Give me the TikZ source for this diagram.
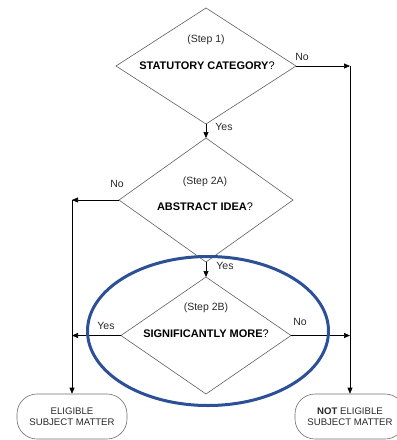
\documentclass[tikz,border=0pt]{standalone}
\usepackage{fontspec}
\setmainfont{Liberation Sans}
\usetikzlibrary{arrows.meta,shapes.geometric}
\definecolor{diagray}{RGB}{95,95,95}
\definecolor{termgray}{RGB}{110,110,110}
\definecolor{hlblue}{RGB}{44,80,150}
\definecolor{txtgray}{RGB}{40,40,40}
\begin{document}
\begin{tikzpicture}[x=1pt,y=-1pt,
  diabox/.style={draw=diagray, line width=0.6pt, diamond, inner sep=0pt, outer sep=0pt},
  stepl/.style={font=\fontsize{10.5}{12}\selectfont, text=txtgray, inner sep=0pt},
  quest/.style={font=\fontsize{11}{13}\selectfont, text=black, inner sep=0pt},
  lbl/.style={font=\fontsize{10.5}{12}\selectfont, text=txtgray, inner sep=0pt},
  termbox/.style={draw=termgray, line width=0.6pt, rounded corners=20pt, minimum width=110pt, minimum height=45pt, align=center, inner sep=0pt, font=\fontsize{9.6}{11.5}\selectfont, text=txtgray},
  arr/.style={draw=black, line width=0.6pt, -{Triangle[length=6pt,width=5pt]}},
  hl/.style={draw=hlblue, line width=3pt, ellipse, inner sep=0pt}
]
\useasboundingbox (0,0) rectangle (397,440);
\clip (0,0) rectangle (397,440);

% decisions
\node[diabox, minimum width=180pt, minimum height=116pt] (d1) at (206,66) {};
\node[diabox, minimum width=174pt, minimum height=124pt] (d2) at (206,200) {};
\node[diabox, minimum width=170pt, minimum height=117pt] (d3) at (206,335.5) {};

\node[stepl] (s1) at (206,40) {(Step 1)};
\node[quest] (q1) at (207,66) {\textbf{STATUTORY CATEGORY}?};
\node[stepl] (s2) at (205,182) {(Step 2A)};
\node[quest] (q2) at (205,207) {\textbf{ABSTRACT IDEA}?};
\node[stepl] (s3) at (206,308) {(Step 2B)};
\node[quest] (q3) at (206,334) {\textbf{SIGNIFICANTLY MORE}?};

% terminals
\node[termbox] (el) at (72,416.5) {ELIGIBLE\\SUBJECT MATTER};
\node[termbox] (ne) at (350,416.5) {\textbf{NOT} ELIGIBLE\\SUBJECT MATTER};

% junctions
\coordinate (jr1) at (350,66);
\coordinate (jl2) at (72,200);
\coordinate (jl3) at (72,335.5);
\coordinate (jr3) at (350,335.5);

% connectors
\draw[arr] (d1.east) -- (jr1);
\draw[arr] (jr1) -- (ne.north);
\draw[arr] (d1.south) -- (d2.north);
\draw[arr] (d2.west) -- (jl2);
\draw[arr] (jl2) -- (el.north);
\draw[arr] (d2.south) -- (d3.north);
\draw[arr] (d3.west) -- (jl3);
\draw[arr] (d3.east) -- (jr3);

% labels
\node[lbl] (n1) at (302,57) {No};
\node[lbl] (y1) at (224,127) {Yes};
\node[lbl] (n2) at (117,184) {No};
\node[lbl] (y2) at (225,266) {Yes};
\node[lbl] (y3) at (106,326) {Yes};
\node[lbl] (n3) at (300,322) {No};

% highlight
\node[hl, minimum width=241pt, minimum height=149pt] (hle) at (208,331) {};
\end{tikzpicture}
\end{document}
